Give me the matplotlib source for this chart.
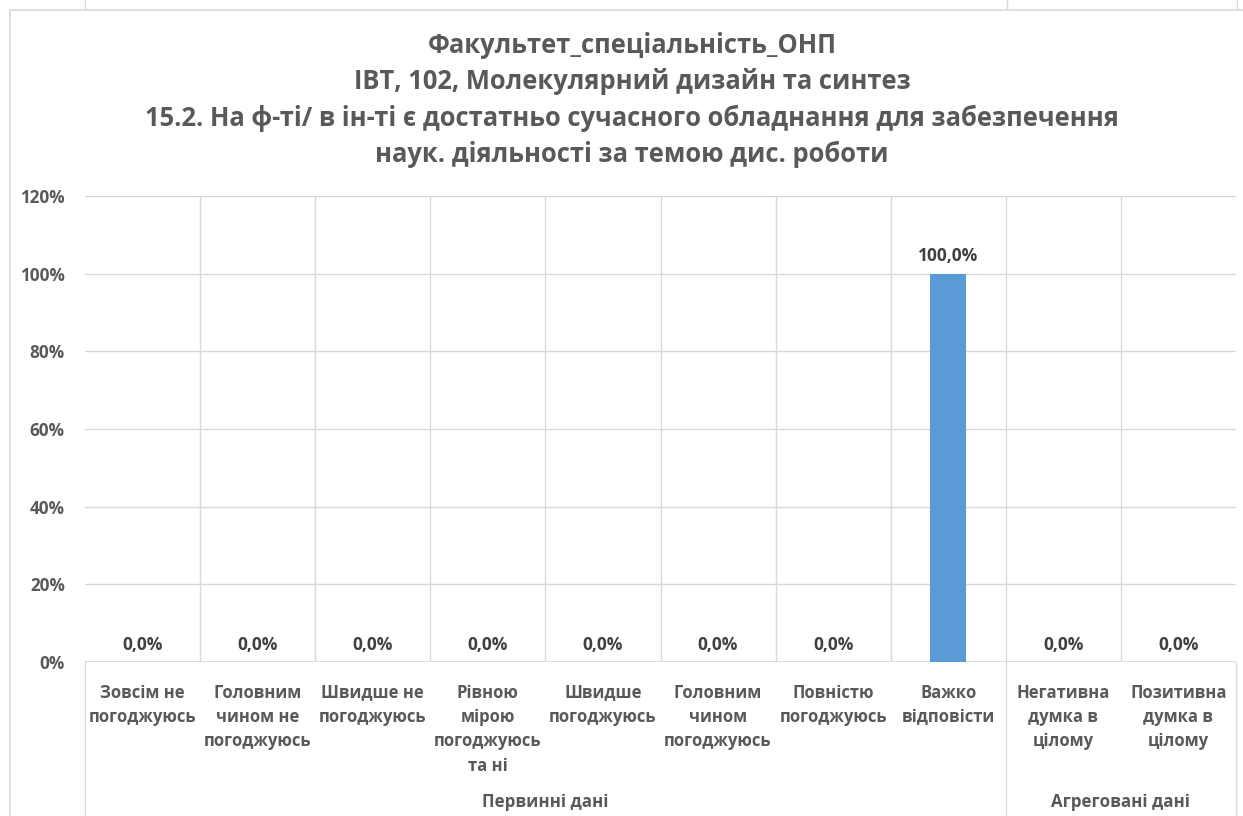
import matplotlib.pyplot as plt
from matplotlib.lines import Line2D
from matplotlib.ticker import PercentFormatter

plt.rcParams['font.family'] = ['Open Sans', 'DejaVu Sans']
plt.rcParams['font.weight'] = 'bold'

# data
categories = [
    "Зовсім не\nпогоджуюсь",
    "Головним\nчином не\nпогоджуюсь",
    "Швидше не\nпогоджуюсь",
    "Рівною\nмірою\nпогоджуюсь\nта ні",
    "Швидше\nпогоджуюсь",
    "Головним\nчином\nпогоджуюсь",
    "Повністю\nпогоджуюсь",
    "Важко\nвідповісти",
    "Негативна\nдумка в\nцілому",
    "Позитивна\nдумка в\nцілому",
]
values = [0.0, 0.0, 0.0, 0.0, 0.0, 0.0, 0.0, 100.0, 0.0, 0.0]
groups = ["Первинні дані", "Агреговані дані"]
group_sizes = [8, 2]
title = ("Факультет_спеціальність_ОНП\n"
         "ІВТ, 102, Молекулярний дизайн та синтез\n"
         "15.2. На ф-ті/ в ін-ті є достатньо сучасного обладнання для забезпечення\n"
         "наук. діяльності за темою дис. роботи")

text_col = '#595959'
grid_col = '#d9d9d9'
bar_col = '#5b9bd5'

W, H = 1243, 816
fig = plt.figure(figsize=(W / 100, H / 100), dpi=100)
ax = fig.add_axes([85 / W, (H - 662) / H, (1236 - 85) / W, (662 - 196) / H])

n = len(categories)
x = list(range(n))
ax.bar(x, values, width=0.31, color=bar_col, zorder=3)

ax.set_xlim(-0.5, n - 0.5)
ax.set_ylim(0, 120)
ax.set_yticks(range(0, 121, 20))
ax.yaxis.set_major_formatter(PercentFormatter(decimals=0))
ax.grid(axis='y', color=grid_col, linewidth=1, zorder=0)
for i in range(1, n):
    ax.axvline(i - 0.5, color=grid_col, linewidth=1, zorder=0)

for s in ax.spines.values():
    s.set_visible(False)
ax.axhline(0, color=grid_col, linewidth=1.2, zorder=1)

ax.tick_params(axis='y', length=0, pad=14.5, labelsize=12.3, labelcolor=text_col)
ax.set_xticks(x)
ax.set_xticklabels(categories, fontsize=12, color=text_col, linespacing=1.46,
                   va='top')
ax.tick_params(axis='x', length=0, pad=15.5)

# data labels
for xi, v in zip(x, values):
    ax.annotate(f"{v:.1f}%".replace('.', ','), (xi, v), xytext=(0, 6),
                textcoords='offset points', ha='center', va='bottom',
                fontsize=12.5, color='#404040', fontweight='bold')

# group separators and labels below the axis
bottom = -(H - 662) / (662 - 196)
edges = [-0.5]
for g in group_sizes:
    edges.append(edges[-1] + g)
trans = ax.get_xaxis_transform()
for e in edges:
    ax.add_line(Line2D([e, e], [0, bottom], transform=trans, color=grid_col,
                       linewidth=1, clip_on=False))
for g, a, b in zip(groups, edges[:-1], edges[1:]):
    ax.text((a + b) / 2, (662 - 802) / (662 - 196), g, transform=trans,
            ha='center', va='center', fontsize=12.2, color=text_col,
            fontweight='bold')

fig.text(632 / W, 1 - 100 / H, title, ha='center', va='center', fontsize=18.4,
         color=text_col, fontweight='bold', linespacing=1.45)

# chart border
fig.add_artist(Line2D([10 / W, 10 / W], [0, 1 - 10 / H], color=grid_col, linewidth=1.2))
fig.add_artist(Line2D([10 / W, 1], [1 - 10 / H, 1 - 10 / H], color=grid_col, linewidth=1.2))
for px in [85, 1007, 1237]:
    fig.add_artist(Line2D([px / W, px / W], [1 - 8 / H, 1], color=grid_col, linewidth=1))

fig.savefig('out.png', dpi=100)
